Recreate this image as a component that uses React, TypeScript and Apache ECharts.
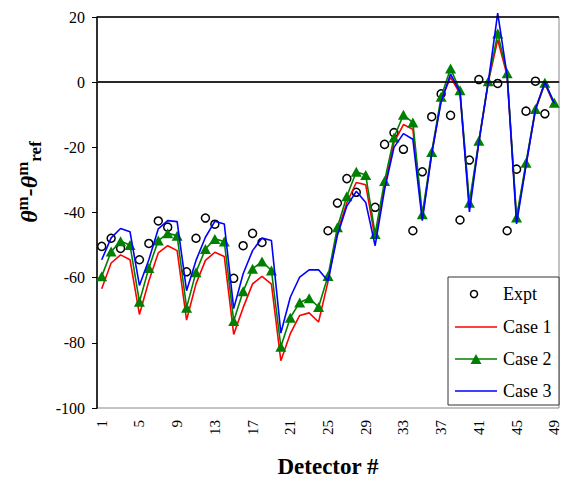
import React, { useEffect, useRef } from "react";
import * as echarts from "echarts";

const detectors = [
  "1", "2", "3", "4", "5", "6", "7", "8", "9", "10",
  "11", "12", "13", "14", "15", "16", "17", "18", "19", "20",
  "21", "22", "23", "24", "25", "26", "27", "28", "29", "30",
  "31", "32", "33", "34", "35", "36", "37", "38", "39", "40",
  "41", "42", "43", "44", "45", "46", "47", "48", "49",
];

const expt: (number | null)[] = [
  -50.4, -47.9, -51, null, -54.5, -49.5, -42.6, -44.5, null, -58.2,
  -47.9, -41.7, -43.6, null, -60.2, -50.2, -46.4, -49.2, null, null,
  null, null, null, null, -45.6, -37.1, -29.6, -33.8, null, -38.4,
  -19.1, -15.5, -20.6, -45.6, -27.5, -10.6, -3.6, -10.2, -42.3, -23.9,
  0.8, null, -0.4, -45.6, -26.7, -8.9, 0.3, -9.7, null,
];

const case1 = [
  -63.4, -55.5, -53, -54.5, -71.3, -61, -52.4, -50.2, -51.7, -73,
  -61.9, -54.7, -52.2, -53.5, -77.4, -69.2, -61.9, -59.6, -62, -85.5,
  -77.2, -71.6, -70.8, -73.6, -61.2, -46, -37, -30.8, -31.5, -48,
  -32, -18.5, -13, -14.5, -41.5, -22, -5.5, 1.5, -3.5, -38,
  -18.5, 0, 13, 2, -42, -25.5, -8.5, -0.5, -7,
];

const case2 = [
  -59.6, -52, -48.8, -50, -67.4, -57, -48.6, -46.4, -47.1, -69.2,
  -58.3, -51.2, -48.1, -48.9, -73.3, -64.2, -57.3, -55, -57.8, -81.2,
  -72.3, -67.6, -66.3, -69, -59.5, -44.5, -35, -27.5, -28.5, -46.6,
  -30.3, -17, -10, -12.4, -40.5, -21.4, -4.5, 4.2, -2.5, -37,
  -18, 0.3, 14.9, 2.7, -41.5, -24.7, -8.2, -0.2, -6.3,
];

const case3 = [
  -54.5, -47.8, -44.9, -45.9, -62.4, -54.5, -45, -42.5, -42.8, -64,
  -54.7, -47.6, -42.7, -43.5, -69.5, -58.8, -51.7, -47.8, -48.6, -77,
  -66, -59.8, -57.6, -57.6, -61, -47, -38, -33.5, -36.9, -50.2,
  -33, -20, -15.8, -17.5, -42.5, -22, -6, 2.5, -3, -39.8,
  -18.5, 0, 21.2, 2, -43.5, -25.5, -8.5, 0, -6.5,
];

const seriesNames = ["Expt", "Case 1", "Case 2", "Case 3"];
const yMin = -100;
const yMax = 20;
const yStep = 20;
const refLines = [0, 20];

export default function App() {
  const ref = useRef<HTMLDivElement>(null);

  useEffect(() => {
    if (!ref.current) return;
    const chart = echarts.init(ref.current, null, { renderer: "svg" });
    const serif = "Liberation Serif, serif";
    const RED = "#ff0000";
    const GREEN = "#008000";
    const BLUE = "#0000ff";

    chart.setOption({
      animation: false,
      backgroundColor: "#ffffff",
      textStyle: { fontFamily: serif },
      grid: {
        left: 97,
        right: 2,
        top: 17,
        bottom: 69,
        containLabel: false,
        outerBoundsMode: "none",
        show: true,
        borderColor: "#888888",
        borderWidth: 1,
        backgroundColor: "transparent",
      },
      xAxis: {
        type: "category",
        data: detectors,
        boundaryGap: true,
        name: "Detector #",
        nameLocation: "middle",
        nameGap: 48,
        nameTextStyle: {
          fontFamily: serif,
          fontSize: 23,
          lineHeight: 20,
          fontWeight: "bold",
          color: "#000",
        },
        axisLine: { show: true, lineStyle: { color: "#808080", width: 1.5 } },
        axisTick: { show: false },
        axisLabel: {
          interval: 3,
          rotate: 90,
          margin: 12,
          fontFamily: serif,
          fontSize: 15,
          lineHeight: 12,
          color: "#000",
        },
        splitLine: { show: false },
      },
      yAxis: {
        type: "value",
        min: yMin,
        max: yMax,
        interval: yStep,
        axisLine: { show: true, lineStyle: { color: "#000", width: 1.5 } },
        axisTick: {
          show: true,
          inside: false,
          length: 5,
          lineStyle: { color: "#000", width: 1 },
        },
        axisLabel: {
          margin: 12,
          fontFamily: serif,
          fontSize: 16,
          color: "#000",
        },
        splitLine: { show: false },
      },
      series: [
        {
          name: seriesNames[0],
          type: "line",
          data: expt,
          symbol: "circle",
          symbolSize: 8,
          showSymbol: true,
          showAllSymbol: true,
          connectNulls: false,
          lineStyle: { width: 0, opacity: 0 },
          itemStyle: {
            color: "rgba(0,0,0,0)",
            borderColor: "#000",
            borderWidth: 1.5,
          },
          z: 1,
          markLine: {
            silent: true,
            symbol: "none",
            label: { show: false },
            lineStyle: { color: "#000", width: 1.5, type: "solid" },
            data: refLines.map((v) => ({ yAxis: v })),
          },
        },
        {
          name: seriesNames[1],
          type: "line",
          data: case1,
          symbol: "none",
          lineStyle: { color: RED, width: 1.6 },
          itemStyle: { color: RED },
          z: 2,
        },
        {
          name: seriesNames[2],
          type: "line",
          data: case2,
          symbol: "triangle",
          symbolSize: [11, 10],
          showSymbol: true,
          showAllSymbol: true,
          lineStyle: { color: GREEN, width: 1.6 },
          itemStyle: { color: GREEN },
          z: 3,
        },
        {
          name: seriesNames[3],
          type: "line",
          data: case3,
          symbol: "none",
          clip: false,
          lineStyle: { color: BLUE, width: 1.6 },
          itemStyle: { color: BLUE },
          z: 4,
        },
      ],
      graphic: [
        {
          type: "group",
          x: 448,
          y: 277,
          z: 100,
          children: [
            {
              type: "rect",
              shape: { x: 0, y: 0, width: 111, height: 128 },
              style: { fill: "#fff", stroke: "#333", lineWidth: 1 },
            },
            {
              type: "circle",
              shape: { cx: 26, cy: 17, r: 3.5 },
              style: { fill: "none", stroke: "#000", lineWidth: 1.5 },
            },
            {
              type: "text",
              x: 55,
              y: 17,
              style: {
                text: seriesNames[0],
                fontFamily: serif,
                fontSize: 18,
                fill: "#000",
                verticalAlign: "middle",
              },
            },
            {
              type: "line",
              shape: { x1: 7, y1: 50, x2: 49, y2: 50 },
              style: { stroke: RED, lineWidth: 1.5 },
            },
            {
              type: "text",
              x: 55,
              y: 50,
              style: {
                text: seriesNames[1],
                fontFamily: serif,
                fontSize: 18,
                fill: "#000",
                verticalAlign: "middle",
              },
            },
            {
              type: "line",
              shape: { x1: 7, y1: 82, x2: 49, y2: 82 },
              style: { stroke: GREEN, lineWidth: 1.5 },
            },
            {
              type: "polygon",
              shape: { points: [[28, 77], [33.5, 87], [22.5, 87]] },
              style: { fill: GREEN },
            },
            {
              type: "text",
              x: 55,
              y: 82,
              style: {
                text: seriesNames[2],
                fontFamily: serif,
                fontSize: 18,
                fill: "#000",
                verticalAlign: "middle",
              },
            },
            {
              type: "line",
              shape: { x1: 7, y1: 114, x2: 49, y2: 114 },
              style: { stroke: BLUE, lineWidth: 1.5 },
            },
            {
              type: "text",
              x: 55,
              y: 114,
              style: {
                text: seriesNames[3],
                fontFamily: serif,
                fontSize: 18,
                fill: "#000",
                verticalAlign: "middle",
              },
            },
          ],
        },
        {
          type: "text",
          x: 29,
          y: 182,
          rotation: Math.PI / 2,
          z: 100,
          style: {
            text: "{t|θ}{s|m}{t|-θ}{s|m}{b|ref}",
            align: "center",
            verticalAlign: "middle",
            fill: "#000",
            rich: {
              t: {
                fontFamily: serif,
                fontSize: 24,
                fontWeight: "bold",
                fontStyle: "italic",
                lineHeight: 30,
                verticalAlign: "middle",
              },
              s: {
                fontFamily: serif,
                fontSize: 17,
                fontWeight: "bold",
                lineHeight: 17,
                verticalAlign: "top",
              },
              b: {
                fontFamily: serif,
                fontSize: 17,
                fontWeight: "bold",
                lineHeight: 17,
                verticalAlign: "bottom",
              },
            },
          },
        },
      ],
    });

    return () => chart.dispose();
  }, []);

  return (
    <div
      ref={ref}
      style={{
        position: "fixed",
        left: 0,
        top: 0,
        width: 561,
        height: 477,
        background: "#fff",
      }}
    />
  );
}
